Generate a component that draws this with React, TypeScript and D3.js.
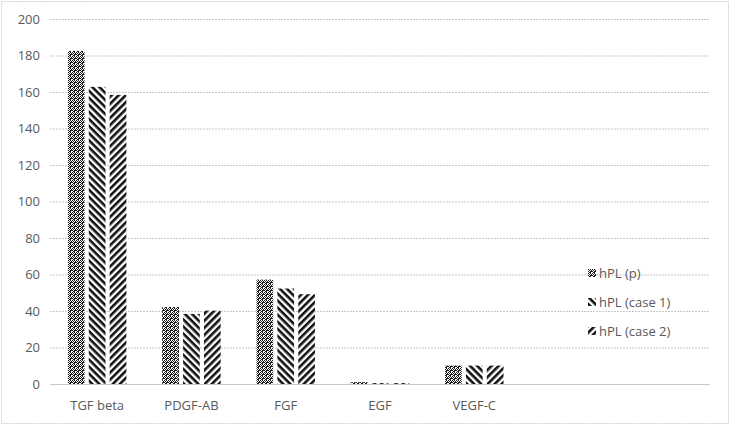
import React, { useRef, useEffect } from "react";
import * as d3 from "d3";

const categories = ["TGF beta", "PDGF-AB", "FGF", "EGF", "VEGF-C"];
const seriesNames = ["hPL (p)", "hPL (case 1)", "hPL (case 2)"];
const hplP = [182.5, 42.2, 57.2, 1.0, 10.1];
const hplCase1 = [162.8, 38.4, 52.3, 0.5, 10.1];
const hplCase2 = [158.4, 40.2, 49.2, 0.5, 10.1];
const yTicks = [0, 20, 40, 60, 80, 100, 120, 140, 160, 180, 200];

const App = () => {
  const svgRef = useRef<SVGSVGElement>(null);

  useEffect(() => {
    const width = 731;
    const height = 426;
    const margin = { left: 50, right: 21, top: 19, bottom: 42 };
    const plotW = width - margin.left - margin.right;
    const font = "'Open Sans', 'Noto Sans', sans-serif";

    const svg = d3.select(svgRef.current).attr("width", width).attr("height", height);
    svg.selectAll("*").remove();

    const defs = svg.append("defs");
    // dotted diamond pattern for hPL (p)
    const pc = defs.append("pattern").attr("id", "pat0").attr("patternUnits", "userSpaceOnUse")
      .attr("width", 4).attr("height", 4);
    pc.append("rect").attr("width", 4).attr("height", 4).attr("fill", "#fff");
    const dots = [[0, 0], [2, 0], [1, 1], [3, 1], [0, 2], [2, 2], [1, 3], [2, 3], [3, 2]];
    dots.forEach(([dx, dy]) => {
      pc.append("rect").attr("x", dx).attr("y", dy).attr("width", 1).attr("height", 1).attr("fill", "#1a1a1a");
    });

    // wide downward diagonal
    const p1 = defs.append("pattern").attr("id", "pat1").attr("patternUnits", "userSpaceOnUse")
      .attr("width", 5).attr("height", 5).attr("patternTransform", "rotate(45)");
    p1.append("rect").attr("width", 5).attr("height", 5).attr("fill", "#fff");
    p1.append("rect").attr("width", 5).attr("height", 2.6).attr("fill", "#111");

    // wide upward diagonal
    const p2 = defs.append("pattern").attr("id", "pat2").attr("patternUnits", "userSpaceOnUse")
      .attr("width", 5).attr("height", 5).attr("patternTransform", "rotate(-45)");
    p2.append("rect").attr("width", 5).attr("height", 5).attr("fill", "#fff");
    p2.append("rect").attr("width", 5).attr("height", 2.6).attr("fill", "#111");

    // outer chart border
    svg.append("rect").attr("x", 1.5).attr("y", 1.5).attr("width", width - 4).attr("height", height - 4)
      .attr("fill", "#fff").attr("stroke", "#d0d0d0").attr("stroke-dasharray", "2,1");

    const y = d3.scaleLinear().domain([0, 200]).range([height - margin.bottom, margin.top]);
    // 7 category slots in the plot, only 5 are used
    const x = d3.scaleBand<string>().domain(categories)
      .range([margin.left, margin.left + (plotW * 5) / 7]).paddingInner(0.38).paddingOuter(0.19);
    const xs = d3.scaleBand<string>().domain(seriesNames).range([0, x.bandwidth()]).paddingInner(0.2);

    svg.append("g").selectAll("line").data(yTicks).join("line")
      .attr("x1", margin.left).attr("x2", width - margin.right)
      .attr("y1", (d) => y(d) + 0.5).attr("y2", (d) => y(d) + 0.5)
      .attr("stroke", "#c8c8c8").attr("stroke-dasharray", (d) => (d === 0 ? null : "2,1"));

    svg.append("g").selectAll("text").data(yTicks).join("text")
      .attr("x", 40).attr("y", (d) => y(d)).attr("dy", "0.35em").attr("text-anchor", "end")
      .attr("font-family", font).attr("font-size", 13).attr("fill", "#595959")
      .text((d) => d);

    const series = [hplP, hplCase1, hplCase2];
    series.forEach((vals, si) => {
      svg.append("g").selectAll("rect").data(vals).join("rect")
        .attr("x", (_, i) => (x(categories[i]) as number) + (xs(seriesNames[si]) as number))
        .attr("width", xs.bandwidth())
        .attr("y", (d) => y(d))
        .attr("height", (d) => y(0) - y(d))
        .attr("fill", `url(#pat${si})`);
    });

    svg.append("g").selectAll("text").data(categories).join("text")
      .attr("x", (d) => (x(d) as number) + x.bandwidth() / 2).attr("y", 410)
      .attr("text-anchor", "middle").attr("font-family", font).attr("font-size", 13)
      .attr("fill", "#595959").text((d) => d);

    const legend = svg.append("g").selectAll("g").data(seriesNames).join("g")
      .attr("transform", (_, i) => `translate(588,${273 + i * 29})`);
    legend.append("rect").attr("x", 0).attr("y", -4).attr("width", 8).attr("height", 8)
      .attr("fill", (_, i) => `url(#pat${i})`);
    legend.append("text").attr("x", 11).attr("dy", "0.35em").attr("font-family", font)
      .attr("font-size", 13).attr("fill", "#595959").text((d) => d);
  }, []);

  return <svg ref={svgRef} style={{ position: "absolute", left: 0, top: 0 }}></svg>;
};

export default App;
